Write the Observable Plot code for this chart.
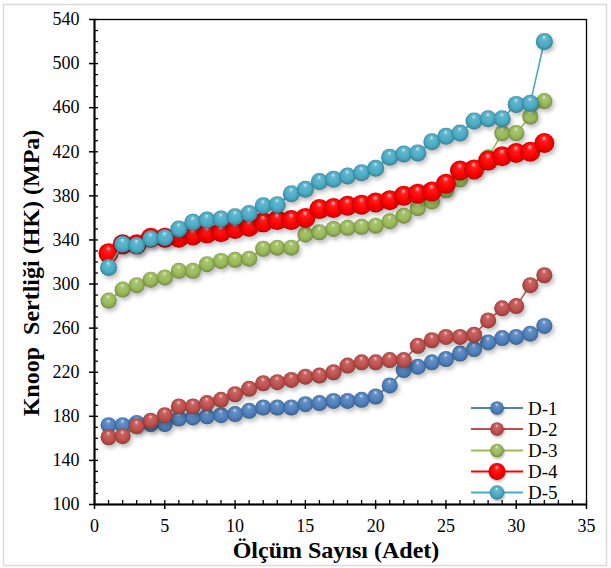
<!DOCTYPE html>
<html><head><meta charset="utf-8">
<script src="https://cdn.jsdelivr.net/npm/d3@7"></script>
<script src="https://cdn.jsdelivr.net/npm/@observablehq/plot@0.6"></script>
<style>
body{margin:0;background:#fff;}
#chart{position:relative;width:611px;height:568px;}
</style></head><body><div id="chart"></div>
<script>
// ---- data ----
const olcum = [1,2,3,4,5,6,7,8,9,10,11,12,13,14,15,16,17,18,19,20,21,22,23,24,25,26,27,28,29,30,31,32];
const D1 = [172,172,174,173,173,178,179,180,181,182,185,188,188,188,191,192,194,194,195,198,208,222,225,229,232,237,241,247,251,252,255,262];
const D2 = [161,162,171,176,181,189,189,192,195,200,205,210,211,213,216,217,220,226,229,229,231,231,244,249,252,252,254,267,278,280,299,308];
const D3 = [285,295,299,304,306,312,312,318,321,322,323,332,333,333,345,347,350,351,352,353,357,362,369,375,385,395,405,415,437,437,452,466];
const D4 = [328,336,336,342,342,342,344,346,347,350,352,356,358,358,360,368,369,371,372,374,376,380,382,384,391,403,404,412,416,419,420,428];
const D5 = [315,336,335,341,342,350,356,358,359,361,364,371,372,382,386,393,395,398,401,405,415,418,419,429,434,437,448,450,450,463,464,520];
const seriesNames = ["D-1","D-2","D-3","D-4","D-5"];
const seriesValues = [D1, D2, D3, D4, D5];
const xTicks = [0,5,10,15,20,25,30,35];
const yTicks = [100,140,180,220,260,300,340,380,420,460,500,540];
const xTitle = "Ölçüm Sayısı (Adet)";
const yTitle = "Knoop  Sertliği (HK) (MPa)";

// ---- styles ----
const colors = ["#4F81BD","#C0504D","#9BBB59","#FF0000","#4BACC6"];
const radii = [8,8,8,10,8.5];
const W = 611, H = 568, mL = 94, mR = 25, mT = 19, mB = 64;
const frameW = W - mL - mR, frameH = H - mT - mB;
const xMinor = d3.range(0, 36, 1);
const yMinor = d3.range(100, 541, 10);

const marks = [];
seriesValues.forEach((vals, i) => {
  const data = olcum.map((x, j) => ({x, y: vals[j]}));
  marks.push(Plot.line(data, {x: "x", y: "y", stroke: colors[i], strokeWidth: 1.6}));
  marks.push(Plot.dot(data, {x: "x", y: "y", r: radii[i], fill: `url(#ball${i})`, stroke: "none"}));
});

const plot = Plot.plot({
  width: W, height: H,
  marginLeft: mL, marginRight: mR, marginTop: mT, marginBottom: mB,
  style: {fontFamily: "'Liberation Serif', 'Times New Roman', serif", fontSize: "18px", color: "#000", background: "#fff"},
  x: {domain: [0, 35]},
  y: {domain: [100, 540]},
  marks: [
    Plot.frame({stroke: "#000", strokeWidth: 1.3}),
    Plot.tickX(xMinor, {x: d => d, insetTop: frameH - 4, stroke: "#000", strokeWidth: 1.3}),
    Plot.tickY(yMinor, {y: d => d, insetRight: frameW - 4, stroke: "#000", strokeWidth: 1.3}),
    Plot.axisX({ticks: xTicks, tickSize: 5, tickPadding: 10, fontSize: 18, label: null, strokeWidth: 1.5}),
    Plot.axisY({ticks: yTicks, tickSize: 5, tickPadding: 10, fontSize: 18, label: null, strokeWidth: 1.5}),
    Plot.ruleX([0], {stroke: "#000", strokeWidth: 2}),
    Plot.ruleY([100], {stroke: "#000", strokeWidth: 2}),
    ...marks
  ]
});

const svg = d3.select(plot);
const defs = svg.insert("defs", ":first-child");
colors.forEach((c, i) => {
  const g = defs.append("radialGradient").attr("id", `ball${i}`)
    .attr("cx", "50%").attr("cy", "50%").attr("r", "52%").attr("fx", "48%").attr("fy", "22%");
  const light = d3.interpolateRgb(c, "#fff")(0.75);
  const mid = d3.interpolateRgb(c, "#fff")(0.12);
  const dark = d3.interpolateRgb(c, "#000")(0.15);
  const darker = d3.interpolateRgb(c, "#000")(0.4);
  g.append("stop").attr("offset", "0%").attr("stop-color", light);
  g.append("stop").attr("offset", "25%").attr("stop-color", mid);
  g.append("stop").attr("offset", "65%").attr("stop-color", c);
  g.append("stop").attr("offset", "88%").attr("stop-color", dark);
  g.append("stop").attr("offset", "100%").attr("stop-color", darker);
});
svg.selectAll('g[aria-label="dot"]').style("filter", "drop-shadow(2px 3px 2px rgba(0,0,0,0.25))");

// outer border
svg.append("rect").attr("x", 3.5).attr("y", 4.5).attr("width", 603).attr("height", 561)
  .attr("fill", "none").attr("stroke", "#d9d9d9").attr("stroke-width", 1.5);

// titles
svg.append("text").attr("x", 336).attr("y", 558).attr("text-anchor", "middle")
  .attr("font-weight", "bold").attr("font-size", 24).attr("fill", "#000").text(xTitle);
svg.append("text").attr("transform", "translate(31,273) rotate(-90)").attr("text-anchor", "middle")
  .attr("dominant-baseline", "central").style("white-space", "pre")
  .attr("font-weight", "bold").attr("font-size", 24).attr("fill", "#000").text(yTitle);

// legend
const legY = [408, 429, 450.5, 471.5, 492.5];
const leg = svg.append("g").attr("class", "legend");
seriesNames.forEach((name, i) => {
  const gy = legY[i];
  leg.append("line").attr("x1", 471).attr("x2", 523).attr("y1", gy).attr("y2", gy)
    .attr("stroke", colors[i]).attr("stroke-width", 2);
  leg.append("circle").attr("cx", 497).attr("cy", gy).attr("r", radii[i] * 0.85)
    .attr("fill", `url(#ball${i})`).style("filter", "drop-shadow(1px 2px 1px rgba(0,0,0,0.25))");
  leg.append("text").attr("x", 528).attr("y", gy).attr("text-anchor", "start").attr("dominant-baseline", "central")
    .attr("font-size", 19).attr("fill", "#000").text(name);
});

document.getElementById("chart").appendChild(plot);
</script>
</body></html>
